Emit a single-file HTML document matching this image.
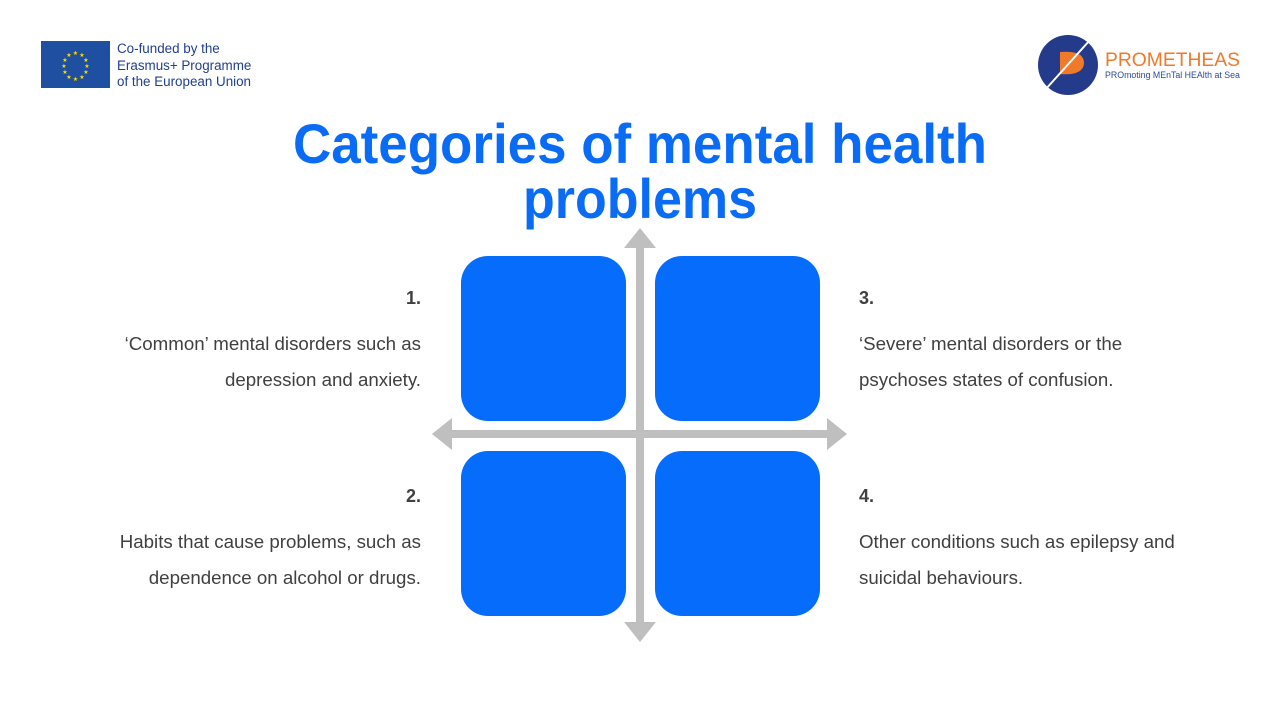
<!DOCTYPE html>
<html><head><meta charset="utf-8"><style>
body{margin:0;width:1280px;height:720px;background:#fff;position:relative;overflow:hidden;font-family:"Liberation Sans",sans-serif}
.t{position:absolute;font-size:18.7px;color:#404040;line-height:36px;white-space:nowrap}
.r{text-align:right;right:859px}
.l{left:859px}
.n{font-weight:bold;font-size:18px}
.box{position:absolute;width:165px;height:165px;border-radius:27px;background:#066cfc}
</style></head><body>
<svg width="1280" height="720" style="position:absolute;left:0;top:0">
<rect x="41" y="41" width="69" height="47" fill="#1f4fa0"/>
<g fill="#ffdd00" font-size="6" text-anchor="middle" font-family="DejaVu Sans">
<text x="75.5" y="55">★</text><text x="82" y="57">★</text><text x="86" y="62">★</text><text x="87" y="68">★</text><text x="86" y="74">★</text><text x="82" y="79">★</text><text x="75.5" y="81">★</text><text x="69" y="79">★</text><text x="65" y="74">★</text><text x="64" y="68">★</text><text x="65" y="62">★</text><text x="69" y="57">★</text>
</g>
<g font-family="Liberation Sans" font-size="13.4" fill="#1f3f8f">
<text x="117" y="53">Co-funded by the</text><text x="117" y="70">Erasmus+ Programme</text><text x="117" y="86">of the European Union</text></g>
<circle cx="1068" cy="65" r="30" fill="#243a8a"/>
<path d="M1060 52 Q1085 50 1084 64 Q1082 76 1060 74 Z" fill="#f07a2a"/>
<line x1="1045" y1="90" x2="1090" y2="40" stroke="#fff" stroke-width="2"/>
<text x="1105" y="66" font-family="Liberation Sans" font-size="19.3" fill="#f07a2a">PROMETHEAS</text>
<text x="1105" y="78" font-family="Liberation Sans" font-size="8.8" fill="#2e4a9a">PROmoting MEnTal HEAlth at Sea</text>
<g font-family="Liberation Sans" font-weight="bold" font-size="56" fill="#0a6cf5" text-anchor="middle">
<text x="640" y="163" textLength="694" lengthAdjust="spacingAndGlyphs">Categories of mental health</text>
<text x="640" y="218" textLength="234" lengthAdjust="spacingAndGlyphs">problems</text>
</g>
<g fill="#bfbfbf">
<rect x="636" y="244" width="8" height="384"/>
<polygon points="640,228 656,248 624,248"/>
<polygon points="640,642 656,622 624,622"/>
<rect x="450" y="430" width="382" height="8"/>
<polygon points="432,434 452,418 452,450"/>
<polygon points="847,434 827,418 827,450"/>
</g>
</svg>
<div class="box" style="left:461px;top:256px"></div>
<div class="box" style="left:655px;top:256px"></div>
<div class="box" style="left:461px;top:451px"></div>
<div class="box" style="left:655px;top:451px"></div>
<div class="t r n" style="top:280px">1.</div>
<div class="t r" style="top:326px">‘Common’ mental disorders such as<br>depression and anxiety.</div>
<div class="t r n" style="top:478px">2.</div>
<div class="t r" style="top:524px">Habits that cause problems, such as<br>dependence on alcohol or drugs.</div>
<div class="t l n" style="top:280px">3.</div>
<div class="t l" style="top:326px">‘Severe’ mental disorders or the<br>psychoses states of confusion.</div>
<div class="t l n" style="top:478px">4.</div>
<div class="t l" style="top:524px">Other conditions such as epilepsy and<br>suicidal behaviours.</div>
</body></html>
